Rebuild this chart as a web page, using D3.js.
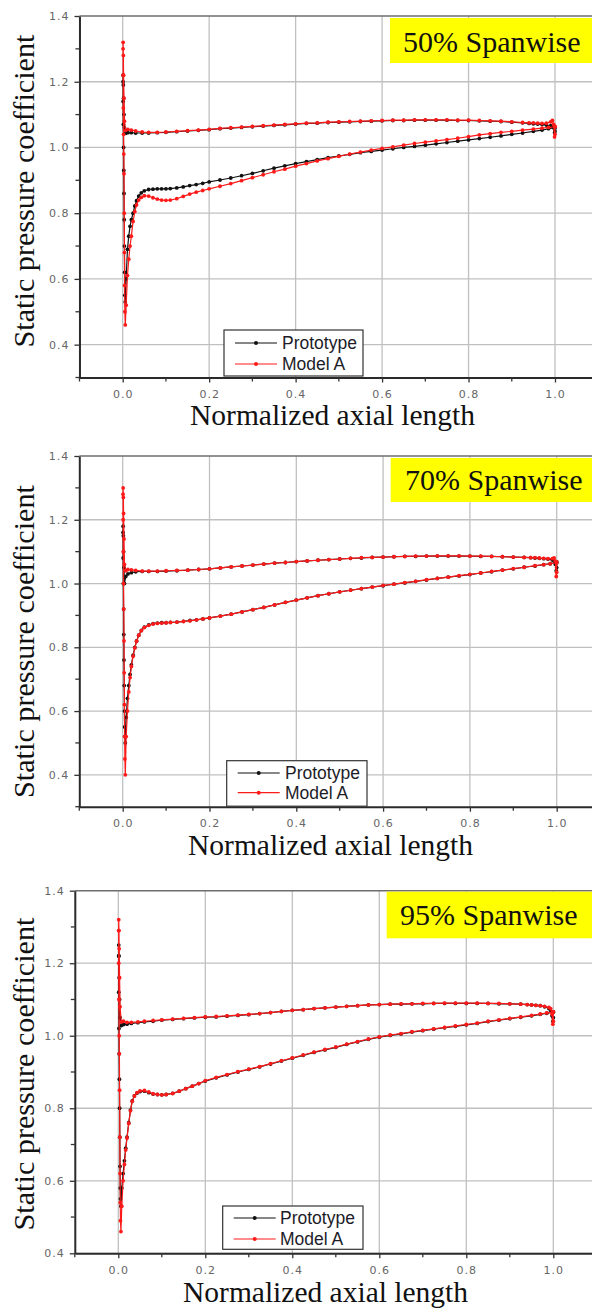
<!DOCTYPE html>
<html>
<head>
<meta charset="utf-8">
<script src="https://cdn.jsdelivr.net/npm/d3@7"></script>
<style>
  body { margin: 0; background: #fff; }
  svg { display: block; }
</style>
</head>
<body>
<svg id="chart" width="592" height="1311"></svg>
<script>
// ---------- data ----------
const spanLabels = ["50% Spanwise", "70% Spanwise", "95% Spanwise"];
const seriesNames = ["Prototype", "Model A"];
const xTickValues = [0.0, 0.2, 0.4, 0.6, 0.8, 1.0];
const xTickLabels = ["0.0", "0.2", "0.4", "0.6", "0.8", "1.0"];
const yTickValues = [0.4, 0.6, 0.8, 1.0, 1.2, 1.4];
const yTickLabels = ["0.4", "0.6", "0.8", "1.0", "1.2", "1.4"];
const xAxisTitle = "Normalized axial length";
const yAxisTitle = "Static pressure coefficient";

// axial stations: pressure side (trailing edge -> leading edge)
const xPressure = [1.000, 1.000, 0.999, 0.997, 0.994, 0.990, 0.980, 0.970, 0.960, 0.950,
  0.940, 0.925, 0.900, 0.875, 0.850, 0.825, 0.800, 0.775, 0.750, 0.725,
  0.700, 0.675, 0.650, 0.625, 0.600, 0.575, 0.550, 0.525, 0.500, 0.475,
  0.450, 0.425, 0.400, 0.375, 0.350, 0.325, 0.300, 0.275, 0.250, 0.225,
  0.200, 0.175, 0.150, 0.125, 0.100, 0.080, 0.060, 0.045, 0.030, 0.020,
  0.012, 0.007];
// leading-edge stations (around the stagnation point)
const xLeadingEdge = [0.004, 0.003, 0.002, 0.0015, 0.001, 0.0008, 0.001, 0.0015, 0.002, 0.0025,
  0.003, 0.0035, 0.004, 0.0045, 0.005, 0.006];
// suction side (leading edge -> trailing edge)
const xSuction = [0.008, 0.011, 0.014, 0.017, 0.020, 0.024, 0.028, 0.032, 0.037, 0.043,
  0.050, 0.060, 0.070, 0.080, 0.090, 0.100, 0.110, 0.125, 0.140, 0.155,
  0.170, 0.185, 0.200, 0.225, 0.250, 0.275, 0.300, 0.325, 0.350, 0.375,
  0.400, 0.425, 0.450, 0.475, 0.500, 0.525, 0.550, 0.575, 0.600, 0.625,
  0.650, 0.675, 0.700, 0.725, 0.750, 0.775, 0.800, 0.825, 0.850, 0.875,
  0.900, 0.925, 0.950, 0.970, 0.985, 1.000];

// 50% span
const proto50Pressure = [1.062, 1.050, 1.045, 1.060, 1.064, 1.066, 1.068, 1.070, 1.071, 1.072,
  1.073, 1.075, 1.077, 1.079, 1.080, 1.081, 1.082, 1.082, 1.083, 1.083,
  1.083, 1.083, 1.082, 1.082, 1.081, 1.080, 1.079, 1.078, 1.077, 1.076,
  1.074, 1.073, 1.071, 1.069, 1.067, 1.065, 1.063, 1.061, 1.059, 1.057,
  1.054, 1.052, 1.050, 1.048, 1.046, 1.045, 1.044, 1.044, 1.044, 1.045,
  1.045, 1.043];
const proto50LE = [1.06, 1.10, 1.15, 1.19, 1.22, 1.20, 1.14, 1.07, 1.00, 0.93,
  0.86, 0.78, 0.70, 0.62, 0.55, 0.53];
const proto50Suction = [0.60, 0.69, 0.73, 0.76, 0.78, 0.80, 0.822, 0.838, 0.852, 0.862,
  0.868, 0.872, 0.873, 0.874, 0.874, 0.874, 0.875, 0.877, 0.880, 0.884,
  0.887, 0.891, 0.895, 0.901, 0.907, 0.914, 0.921, 0.929, 0.937, 0.944,
  0.951, 0.957, 0.963, 0.969, 0.974, 0.979, 0.984, 0.988, 0.992, 0.996,
  1.000, 1.003, 1.007, 1.011, 1.015, 1.019, 1.023, 1.027, 1.031, 1.035,
  1.040, 1.044, 1.049, 1.053, 1.057, 1.060];
const modelA50Pressure = [1.064, 1.040, 1.032, 1.070, 1.082, 1.078, 1.074, 1.073, 1.074, 1.075,
  1.075, 1.076, 1.078, 1.080, 1.081, 1.082, 1.083, 1.083, 1.084, 1.084,
  1.084, 1.084, 1.083, 1.083, 1.082, 1.081, 1.080, 1.079, 1.078, 1.077,
  1.075, 1.074, 1.072, 1.070, 1.068, 1.066, 1.064, 1.062, 1.060, 1.058,
  1.055, 1.053, 1.051, 1.049, 1.047, 1.046, 1.046, 1.047, 1.050, 1.053,
  1.055, 1.052];
const modelA50LE = [1.08, 1.15, 1.22, 1.28, 1.32, 1.30, 1.22, 1.12, 1.04, 0.98,
  0.92, 0.80, 0.68, 0.58, 0.50, 0.46];
const modelA50Suction = [0.52, 0.61, 0.66, 0.70, 0.73, 0.775, 0.805, 0.825, 0.840, 0.848,
  0.853, 0.852, 0.847, 0.843, 0.840, 0.839, 0.840, 0.844, 0.851, 0.858,
  0.864, 0.869, 0.874, 0.882, 0.890, 0.899, 0.908, 0.917, 0.926, 0.934,
  0.943, 0.951, 0.959, 0.966, 0.973, 0.980, 0.986, 0.992, 0.997, 1.002,
  1.007, 1.012, 1.016, 1.020, 1.024, 1.028, 1.033, 1.038, 1.042, 1.046,
  1.049, 1.053, 1.056, 1.059, 1.061, 1.063];

// 70% span
const proto70Pressure = [1.068, 1.050, 1.040, 1.060, 1.070, 1.074, 1.077, 1.078, 1.079, 1.080,
  1.081, 1.082, 1.083, 1.084, 1.085, 1.085, 1.086, 1.086, 1.086, 1.086,
  1.086, 1.085, 1.085, 1.084, 1.083, 1.082, 1.080, 1.079, 1.077, 1.075,
  1.073, 1.071, 1.069, 1.066, 1.064, 1.061, 1.058, 1.055, 1.052, 1.049,
  1.046, 1.044, 1.042, 1.040, 1.039, 1.038, 1.038, 1.038, 1.037, 1.034,
  1.030, 1.022];
const proto70LE = [1.00, 1.05, 1.10, 1.15, 1.18, 1.16, 1.08, 1.00, 0.92, 0.84,
  0.76, 0.68, 0.60, 0.55, 0.52, 0.50];
const proto70Suction = [0.58, 0.64, 0.68, 0.715, 0.745, 0.775, 0.800, 0.820, 0.838, 0.853,
  0.863, 0.870, 0.874, 0.876, 0.877, 0.877, 0.878, 0.879, 0.881, 0.884,
  0.886, 0.889, 0.892, 0.898, 0.904, 0.911, 0.918, 0.925, 0.933, 0.941,
  0.948, 0.955, 0.962, 0.968, 0.974, 0.979, 0.984, 0.989, 0.993, 0.998,
  1.002, 1.007, 1.011, 1.016, 1.020, 1.024, 1.028, 1.033, 1.037, 1.042,
  1.046, 1.051, 1.055, 1.059, 1.062, 1.065];
const modelA70Pressure = [1.068, 1.035, 1.022, 1.070, 1.080, 1.078, 1.078, 1.079, 1.080, 1.081,
  1.081, 1.082, 1.083, 1.084, 1.085, 1.086, 1.086, 1.087, 1.087, 1.087,
  1.086, 1.086, 1.085, 1.084, 1.083, 1.082, 1.081, 1.079, 1.077, 1.075,
  1.073, 1.071, 1.069, 1.066, 1.064, 1.061, 1.058, 1.055, 1.052, 1.049,
  1.046, 1.044, 1.042, 1.041, 1.040, 1.039, 1.039, 1.039, 1.041, 1.043,
  1.044, 1.040];
const modelA70LE = [1.06, 1.14, 1.22, 1.27, 1.30, 1.28, 1.20, 1.10, 1.00, 0.92,
  0.82, 0.72, 0.62, 0.52, 0.45, 0.40];
const modelA70Suction = [0.52, 0.60, 0.66, 0.705, 0.740, 0.772, 0.798, 0.819, 0.838, 0.852,
  0.862, 0.869, 0.873, 0.875, 0.876, 0.877, 0.878, 0.879, 0.881, 0.883,
  0.886, 0.889, 0.892, 0.898, 0.904, 0.911, 0.918, 0.925, 0.933, 0.941,
  0.948, 0.955, 0.962, 0.968, 0.974, 0.979, 0.984, 0.989, 0.994, 0.998,
  1.003, 1.007, 1.012, 1.016, 1.020, 1.025, 1.029, 1.033, 1.038, 1.042,
  1.047, 1.051, 1.056, 1.059, 1.062, 1.065];

// 95% span
const proto95Pressure = [1.066, 1.050, 1.040, 1.055, 1.068, 1.075, 1.080, 1.083, 1.084, 1.085,
  1.086, 1.087, 1.088, 1.088, 1.089, 1.089, 1.089, 1.089, 1.089, 1.089,
  1.088, 1.088, 1.087, 1.087, 1.086, 1.085, 1.083, 1.081, 1.079, 1.077,
  1.075, 1.072, 1.070, 1.067, 1.064, 1.061, 1.058, 1.056, 1.054, 1.052,
  1.051, 1.049, 1.047, 1.045, 1.043, 1.040, 1.038, 1.036, 1.034, 1.032,
  1.031, 1.028];
const proto95LE = [1.05, 1.10, 1.16, 1.22, 1.25, 1.22, 1.12, 1.02, 0.95, 0.88,
  0.80, 0.72, 0.64, 0.58, 0.55, 0.53];
const proto95Suction = [0.58, 0.62, 0.655, 0.69, 0.72, 0.76, 0.795, 0.820, 0.834, 0.842,
  0.846, 0.847, 0.843, 0.839, 0.838, 0.837, 0.838, 0.841, 0.847, 0.854,
  0.861, 0.868, 0.875, 0.884, 0.892, 0.900, 0.907, 0.914, 0.922, 0.930,
  0.938, 0.946, 0.954, 0.961, 0.968, 0.976, 0.983, 0.990, 0.996, 1.001,
  1.005, 1.010, 1.014, 1.018, 1.022, 1.026, 1.030, 1.034, 1.039, 1.043,
  1.047, 1.051, 1.055, 1.059, 1.062, 1.065];
const modelA95Pressure = [1.066, 1.040, 1.032, 1.060, 1.075, 1.078, 1.081, 1.083, 1.084, 1.085,
  1.086, 1.087, 1.088, 1.089, 1.089, 1.090, 1.090, 1.090, 1.090, 1.089,
  1.089, 1.088, 1.088, 1.087, 1.086, 1.085, 1.083, 1.081, 1.079, 1.077,
  1.075, 1.072, 1.070, 1.067, 1.064, 1.061, 1.059, 1.057, 1.055, 1.053,
  1.052, 1.050, 1.048, 1.046, 1.044, 1.042, 1.040, 1.038, 1.037, 1.037,
  1.040, 1.038];
const modelA95LE = [1.08, 1.16, 1.24, 1.29, 1.32, 1.29, 1.20, 1.10, 1.00, 0.95,
  0.85, 0.72, 0.62, 0.54, 0.49, 0.46];
const modelA95Suction = [0.53, 0.60, 0.645, 0.685, 0.718, 0.758, 0.793, 0.819, 0.834, 0.843,
  0.848, 0.849, 0.845, 0.840, 0.838, 0.837, 0.838, 0.841, 0.847, 0.854,
  0.861, 0.868, 0.876, 0.885, 0.893, 0.901, 0.908, 0.915, 0.923, 0.931,
  0.939, 0.947, 0.955, 0.962, 0.969, 0.977, 0.984, 0.991, 0.997, 1.002,
  1.006, 1.011, 1.015, 1.019, 1.023, 1.027, 1.031, 1.035, 1.040, 1.044,
  1.048, 1.052, 1.056, 1.060, 1.063, 1.066];

// ---------- layout ----------
const colors = ["#111111", "#ff1a1a"];
const panels = [
  { yLo: 0.3, x0: 122.7, x1: 555.0, top: 16.0, bottom: 377.5,
    box: [390, 18, 45], titleX: 403, titleY: 51.5,
    legend: [224, 330, 139, 46], legendRows: [343, 364], legendTextX: 282,
    xTitleX: 190, xTitleY: 424.5, yTitleY: 191,
    series: [[proto50Pressure, proto50LE, proto50Suction], [modelA50Pressure, modelA50LE, modelA50Suction]] },
  { yLo: 0.3, x0: 122.7, x1: 556.7, top: 456.0, bottom: 806.7,
    box: [390.7, 458, 44], titleX: 405, titleY: 490,
    legend: [226.7, 760.7, 140.3, 45.5], legendRows: [773, 792.7], legendTextX: 285,
    xTitleX: 188, xTitleY: 854.5, yTitleY: 641.5,
    series: [[proto70Pressure, proto70LE, proto70Suction], [modelA70Pressure, modelA70LE, modelA70Suction]] },
  { yLo: 0.4, x0: 118.3, x1: 553.3, top: 890.7, bottom: 1253.3,
    box: [386.7, 891.7, 46.6], titleX: 400, titleY: 925,
    legend: [222.7, 1206, 140.3, 43.3], legendRows: [1218, 1239], legendTextX: 280,
    xTitleX: 183, xTitleY: 1302, yTitleY: 1074,
    series: [[proto95Pressure, proto95LE, proto95Suction], [modelA95Pressure, modelA95LE, modelA95Suction]] }
];

const svg = d3.select("#chart");
const serif = "'Liberation Serif','Times New Roman',Times,serif";
const sans = "'Liberation Sans',Arial,Helvetica,sans-serif";
const tickFont = "'DejaVu Sans',Verdana,sans-serif";

function trace(parts) {
  const [pY, leY, sY] = parts;
  const pts = [];
  xPressure.forEach((x, i) => pts.push([x, pY[i]]));
  xLeadingEdge.forEach((x, i) => pts.push([x, leY[i]]));
  xSuction.forEach((x, i) => pts.push([x, sY[i]]));
  return pts;
}

panels.forEach((p, pi) => {
  const k = p.x1 - p.x0;
  const x = d3.scaleLinear().domain([-0.1, 1.1]).range([p.x0 - 0.1 * k, p.x0 + 1.1 * k]);
  const y = d3.scaleLinear().domain([p.yLo, 1.4]).range([p.bottom, p.top]);
  const g = svg.append("g");
  const left = x(-0.1), right = x(1.1);

  // grid
  g.append("g").selectAll("line").data(xTickValues).join("line")
    .attr("x1", d => x(d)).attr("x2", d => x(d))
    .attr("y1", p.top).attr("y2", p.bottom)
    .attr("stroke", "#c0c0c0").attr("stroke-width", 1.3);
  g.append("g").selectAll("line").data(yTickValues.filter(v => v < 1.4)).join("line")
    .attr("x1", left).attr("x2", right)
    .attr("y1", d => y(d)).attr("y2", d => y(d))
    .attr("stroke", "#c0c0c0").attr("stroke-width", 1.3);

  // frame top
  g.append("line").attr("x1", left).attr("x2", right)
    .attr("y1", p.top).attr("y2", p.top)
    .attr("stroke", "#6e6e6e").attr("stroke-width", 1.6);

  // axes
  const xAxis = d3.axisBottom(x).tickValues(xTickValues).tickSize(5)
    .tickFormat((d, i) => xTickLabels[i]).tickSizeOuter(0);
  const yAxis = d3.axisLeft(y).tickValues(yTickValues).tickSize(5)
    .tickFormat((d, i) => yTickLabels[i]).tickSizeOuter(0);
  const xa = g.append("g").attr("transform", `translate(0,${p.bottom})`).call(xAxis);
  const ya = g.append("g").attr("transform", `translate(${left},0)`).call(yAxis);
  [xa, ya].forEach(a => {
    a.select(".domain").attr("stroke", "#2a2a2a").attr("stroke-width", 2);
    a.selectAll(".tick line").attr("stroke", "#333").attr("stroke-width", 1.3);
    a.selectAll(".tick text").attr("font-family", tickFont)
      .attr("font-size", 11).attr("fill", "#666").attr("letter-spacing", 1);
  });
  xa.selectAll(".tick text").attr("y", 12.5);
  ya.selectAll(".tick text").attr("x", -10);

  // minor ticks
  const xMinorVals = [-0.1, 0.1, 0.3, 0.5, 0.7, 0.9];
  const yMinorVals = [0.5, 0.7, 0.9, 1.1, 1.3].concat(p.yLo < 0.4 ? [0.3] : []);
  g.append("g").selectAll("line").data(xMinorVals).join("line")
    .attr("x1", d => x(d)).attr("x2", d => x(d))
    .attr("y1", p.bottom).attr("y2", p.bottom + 4)
    .attr("stroke", "#333").attr("stroke-width", 1.3);
  g.append("g").selectAll("line").data(yMinorVals).join("line")
    .attr("x1", left - 4).attr("x2", left)
    .attr("y1", d => y(d)).attr("y2", d => y(d))
    .attr("stroke", "#333").attr("stroke-width", 1.3);

  // data traces
  const line = d3.line().x(d => x(d[0])).y(d => y(d[1]));
  p.series.forEach((parts, si) => {
    const pts = trace(parts);
    g.append("path").datum(pts).attr("d", line)
      .attr("fill", "none").attr("stroke", colors[si]).attr("stroke-width", 1.2);
    g.append("g").selectAll("circle").data(pts).join("circle")
      .attr("cx", d => x(d[0])).attr("cy", d => y(d[1])).attr("r", 1.9)
      .attr("fill", colors[si]);
  });

  // span label
  g.append("rect").attr("x", p.box[0]).attr("y", p.box[1])
    .attr("width", 600 - p.box[0]).attr("height", p.box[2]).attr("fill", "#ffff00");
  g.append("text").attr("x", p.titleX).attr("y", p.titleY)
    .attr("font-family", serif).attr("font-size", 30).attr("fill", "#111")
    .text(spanLabels[pi]);

  // legend
  const [lx, ly, lw, lh] = p.legend;
  g.append("rect").attr("x", lx).attr("y", ly).attr("width", lw).attr("height", lh)
    .attr("fill", "#fff").attr("stroke", "#333").attr("stroke-width", 1.2);
  seriesNames.forEach((name, si) => {
    const cy = p.legendRows[si];
    g.append("line").attr("x1", lx + 11).attr("x2", lx + 53).attr("y1", cy).attr("y2", cy)
      .attr("stroke", colors[si]).attr("stroke-width", 1.2);
    g.append("circle").attr("cx", lx + 32).attr("cy", cy).attr("r", 2).attr("fill", colors[si]);
    g.append("text").attr("x", p.legendTextX).attr("y", cy).attr("dy", "0.36em")
      .attr("font-family", sans).attr("font-size", 17.5).attr("fill", "#1c1c28")
      .text(name);
  });

  // axis titles
  g.append("text").attr("x", p.xTitleX).attr("y", p.xTitleY)
    .attr("font-family", serif).attr("font-size", 29.5).attr("fill", "#111")
    .text(xAxisTitle);
  g.append("text").attr("transform", `translate(34,${p.yTitleY}) rotate(-90)`)
    .attr("text-anchor", "middle")
    .attr("font-family", serif).attr("font-size", 30.2).attr("fill", "#111")
    .text(yAxisTitle);
});
</script>
</body>
</html>
